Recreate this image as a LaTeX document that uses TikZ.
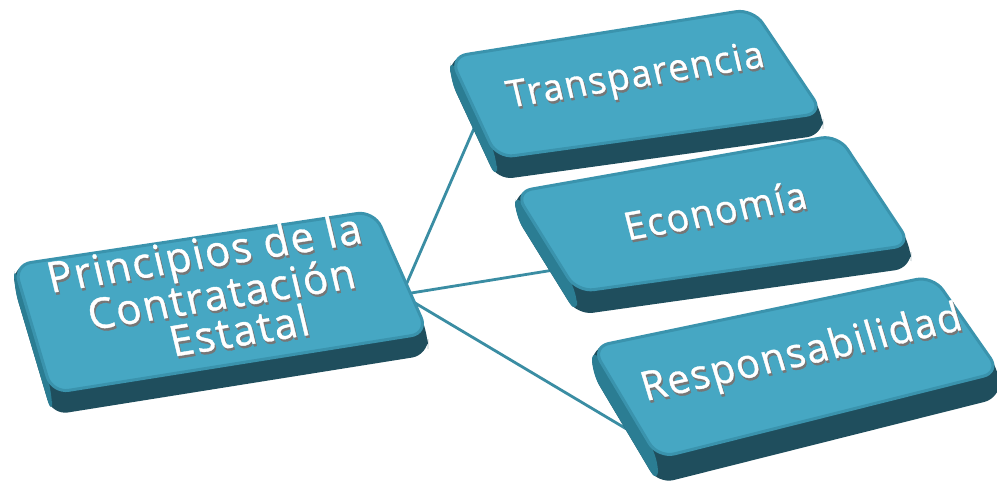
\documentclass[tikz,border=0pt]{standalone}
\usepackage{fontspec}
\setmainfont{Open Sans}
\newfontfamily\kfont{Open Sans}[FakeBold=0.9, LetterSpace=4.5]
\usetikzlibrary{calc}
\definecolor{topc}{HTML}{46A7C3}
\definecolor{bevelc}{HTML}{3A93AD}
\definecolor{sidec}{HTML}{2B7D93}
\definecolor{bottomc}{HTML}{1F4E5D}
\definecolor{linec}{HTML}{3A8DA3}
\definecolor{shadowc}{HTML}{767676}
\tikzset{
  txt/.style={inner sep=0pt, xslant=-0.08},
  conn/.style={draw=linec, line width=2.8pt},
}
\newcommand\keybox[5]{%
  \fill[bottomc, rounded corners=16pt] (#1) -- (#2) -- (#3) -- ($(#3)+(0,#5)$) -- ($(#4)+(0,#5)$) -- ($(#1)+(0,#5)$) -- cycle;
  \fill[sidec, rounded corners=14pt] (#1) -- (#4) -- ($(#4)+(0,#5)$) -- ($(#1)+(0,#5)$) -- cycle;
  \filldraw[fill=topc, draw=bevelc, line width=3pt, rounded corners=17pt] (#1) -- (#2) -- (#3) -- (#4) -- cycle;
}
\newcommand\ktext[5]{%
  \node[txt, rotate=#3, text=shadowc] (#1s) at ($(#2)+(1.4,2.4)$) {\kfont\fontsize{#4}{#4}\selectfont #5};
  \node[txt, rotate=#3, text=white] (#1) at (#2) {\kfont\fontsize{#4}{#4}\selectfont #5};
}
\begin{document}
\begin{tikzpicture}[x=1pt, y=-1pt]
\useasboundingbox (0,0) rectangle (997,493);
\fill[white] (0,0) rectangle (997,493);
% connector end points
\coordinate (pT) at (403,292);
\coordinate (tL) at (482,110);
\coordinate (pE) at (405,294);
\coordinate (eL) at (560,269);
\coordinate (pR) at (410,300);
\coordinate (rL) at (640,437);
\draw[conn] (pT) -- (tL);
\draw[conn] (pE) -- (eL);
\draw[conn] (pR) -- (rL);
% boxes
\keybox{14,265}{374,211}{428,333}{52,393}{22}
\keybox{450,57}{753,9}{823,113}{497,158}{22}
\keybox{515,192}{838,135}{911,245}{577,292}{23}
\keybox{592,347}{933,276}{1000,372}{658,458}{26}
% texts
\ktext{p1}{205,257}{9}{42}{Principios de la}
\ktext{p2}{221,293}{9}{42}{Contratación}
\ktext{p3}{239,330}{9}{42}{Estatal}
\ktext{tr}{636,78}{9}{37}{Transparencia}
\ktext{ec}{715,210}{10}{38}{Economía}
\ktext{re}{802,355}{12.5}{40}{Responsabilidad}
\end{tikzpicture}
\end{document}
